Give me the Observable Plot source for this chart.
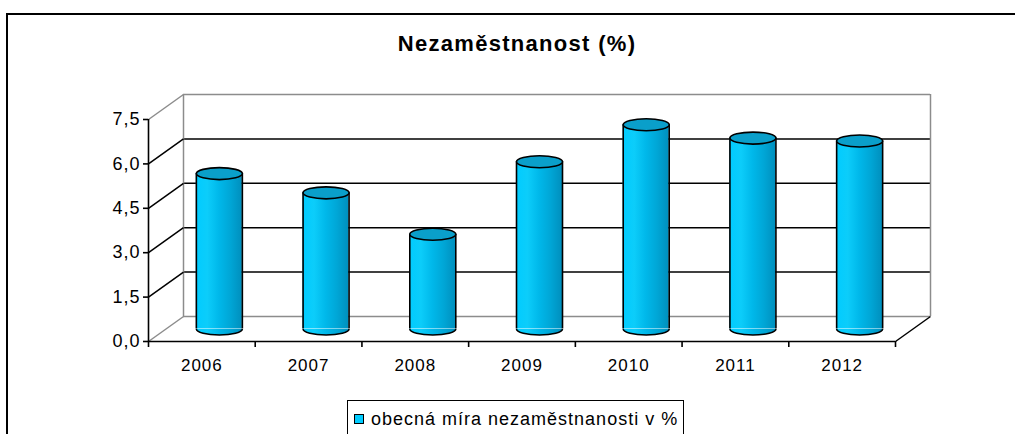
<!DOCTYPE html>
<html>
<head>
<meta charset="utf-8">
<script src="https://cdn.jsdelivr.net/npm/d3@7"></script>
<script src="https://cdn.jsdelivr.net/npm/@observablehq/plot@0.6"></script>
<style>
  html, body { margin: 0; padding: 0; background: #fff; overflow: hidden; }
  body { width: 1015px; height: 434px; position: relative; font-family: "Liberation Sans", Arial, sans-serif; }
  #frame { position: absolute; left: 6px; top: 13px; width: 1100px; height: 500px; border: 2px solid #000; box-sizing: border-box; }
  #title { position: absolute; left: 0; width: 1034px; top: 33px; text-align: center; font-weight: bold; font-size: 22px; line-height: 22px; letter-spacing: 1.3px; color: #000; }
  #chart { position: absolute; left: 0; top: 0; }
  #legend { position: absolute; left: 347px; top: 400px; width: 337px; height: 60px; border: 1.5px solid #000; box-sizing: border-box; background: #fff; }
  #legend .sw { position: absolute; left: 6px; top: 13px; width: 10px; height: 10px; background: #00ccff; border: 1px solid #000; box-sizing: border-box; }
  #legend .lab { position: absolute; left: 23px; top: 8px; font-size: 18px; line-height: 20px; letter-spacing: 1px; white-space: nowrap; }
</style>
</head>
<body>
<div id="frame"></div>
<div id="chart"></div>
<div id="title"></div>
<div id="legend"><div class="sw"></div><div class="lab"></div></div>
<script>
// ---- data ----
const chartTitle = "Nezaměstnanost (%)";
const seriesLabel = "obecná míra nezaměstnanosti v %";
const years = ["2006", "2007", "2008", "2009", "2010", "2011", "2012"];
const rates = [5.25, 4.6, 3.2, 5.65, 6.9, 6.45, 6.35];
const yTicks = [0, 1.5, 3, 4.5, 6, 7.5];

// ---- layout ----
const W = 1015, H = 434;
const ML = 148, MR = 120, MT = 119, MB = 93;
const DEPTH_X = 35, DEPTH_Y = 25;      // 3D depth offset in pixels
const CYL_W = 46, CYL_RY = 6;          // cylinder diameter / ellipse half-height
const GRAY = "#8c8c8c";

const data = years.map((year, i) => ({i, year, rate: rates[i]}));
const xDomain = [-0.5, years.length - 0.5];
const yDomain = [0, yTicks[yTicks.length - 1]];
const pxPerX = (W - ML - MR) / (xDomain[1] - xDomain[0]);
const pxPerY = (H - MT - MB) / (yDomain[1] - yDomain[0]);
const depthXu = DEPTH_X / pxPerX, depthYu = DEPTH_Y / pxPerY;
const hw = CYL_W / 2 / pxPerX;
const midDx = DEPTH_X / 2, midDy = -DEPTH_Y / 2;
const boundaries = d3.range(years.length + 1).map(k => k - 0.5);

// custom ellipse symbols
const K = 0.5523, RX = CYL_W / 2, RY = CYL_RY;
const ellipseSym = {draw(c) {
  c.moveTo(-RX, 0);
  c.bezierCurveTo(-RX, -RY * K, -RX * K, -RY, 0, -RY);
  c.bezierCurveTo(RX * K, -RY, RX, -RY * K, RX, 0);
  c.bezierCurveTo(RX, RY * K, RX * K, RY, 0, RY);
  c.bezierCurveTo(-RX * K, RY, -RX, RY * K, -RX, 0);
  c.closePath();
}};
const lowerHalfSym = {draw(c) {
  c.moveTo(-RX, 0);
  c.bezierCurveTo(-RX, RY * K, -RX * K, RY, 0, RY);
  c.bezierCurveTo(RX * K, RY, RX, RY * K, RX, 0);
  c.closePath();
}};
const lowerArcSym = {draw(c) {
  c.moveTo(-RX, 0);
  c.bezierCurveTo(-RX, RY * K, -RX * K, RY, 0, RY);
  c.bezierCurveTo(RX * K, RY, RX, RY * K, RX, 0);
}};

const inner = yTicks.filter(t => t > yDomain[0] && t < yDomain[1]);
const outer = [yDomain[0], yDomain[1]];

const svg = Plot.plot({
  width: W, height: H,
  marginLeft: ML, marginRight: MR, marginTop: MT, marginBottom: MB,
  x: {type: "linear", domain: xDomain, axis: null, label: null},
  y: {domain: yDomain, axis: null, label: null},
  style: {fontFamily: "'Liberation Sans', Arial, sans-serif", fontSize: "17px", letterSpacing: "1px", color: "#000", background: "transparent", overflow: "visible"},
  marks: [
    // back wall
    Plot.ruleY(inner, {x1: xDomain[0], x2: xDomain[1], dx: DEPTH_X, dy: -DEPTH_Y, stroke: "#000", strokeWidth: 1.5}),
    Plot.ruleY(outer, {x1: xDomain[0], x2: xDomain[1], dx: DEPTH_X, dy: -DEPTH_Y, stroke: GRAY, strokeWidth: 1.5}),
    Plot.ruleX(xDomain, {y1: yDomain[0], y2: yDomain[1], dx: DEPTH_X, dy: -DEPTH_Y, stroke: GRAY, strokeWidth: 1.5}),
    // side wall diagonals
    Plot.link(inner, {x1: xDomain[0], y1: d => d, x2: xDomain[0] + depthXu, y2: d => d + depthYu, stroke: "#000", strokeWidth: 1.5}),
    Plot.link(outer, {x1: xDomain[0], y1: d => d, x2: xDomain[0] + depthXu, y2: d => d + depthYu, stroke: GRAY, strokeWidth: 1.5}),
    // floor right diagonal & front edge
    Plot.link([0], {x1: xDomain[1], y1: 0, x2: xDomain[1] + depthXu, y2: depthYu, stroke: "#000", strokeWidth: 1.5}),
    Plot.ruleY([0], {x1: xDomain[0], x2: xDomain[1], stroke: "#000", strokeWidth: 1.6}),
    Plot.ruleX([xDomain[0]], {y1: yDomain[0], y2: yDomain[1], stroke: "#000", strokeWidth: 1.6}),
    // cylinders
    Plot.dot(data, {x: "i", y: 0, symbol: lowerHalfSym, fill: "url(#cyl)", stroke: "none", dx: midDx, dy: midDy}),
    Plot.rect(data, {x1: d => d.i - hw, x2: d => d.i + hw, y1: 0, y2: "rate", fill: "url(#cyl)", dx: midDx, dy: midDy}),
    Plot.dot(data, {x: "i", y: 0, symbol: lowerArcSym, fill: "none", stroke: "#000", strokeWidth: 1.6, dx: midDx, dy: midDy}),
    Plot.ruleX(data, {x: d => d.i - hw, y1: 0, y2: "rate", stroke: "#000", strokeWidth: 1.6, dx: midDx, dy: midDy}),
    Plot.ruleX(data, {x: d => d.i + hw, y1: 0, y2: "rate", stroke: "#000", strokeWidth: 1.6, dx: midDx, dy: midDy}),
    Plot.dot(data, {x: "i", y: "rate", symbol: ellipseSym, fill: "#0a9fca", stroke: "#000", strokeWidth: 1.6, dx: midDx, dy: midDy}),
    // axes
    Plot.axisY(yTicks, {label: null, tickSize: 5, tickPadding: 3, strokeWidth: 1.6, fontSize: 18, letterSpacing: 0.6, tickFormat: d => d.toFixed(1).replace(".", ",")}),
    Plot.axisX(boundaries, {label: null, tickSize: 6, strokeWidth: 1.6, tickFormat: () => ""}),
    Plot.text(data, {x: "i", y: 0, text: "year", dy: 24, fontSize: 17})
  ]
});

const ns = "http://www.w3.org/2000/svg";
const defs = document.createElementNS(ns, "defs");
defs.innerHTML = `<linearGradient id="cyl" x1="0" x2="1" y1="0" y2="0">
  <stop offset="0" stop-color="#00ccff"/>
  <stop offset="0.25" stop-color="#0ccdfa"/>
  <stop offset="0.5" stop-color="#00b8ea"/>
  <stop offset="0.75" stop-color="#00a6d6"/>
  <stop offset="1" stop-color="#008fbd"/>
</linearGradient>`;
svg.insertBefore(defs, svg.firstChild);
document.getElementById("chart").appendChild(svg);
document.getElementById("title").textContent = chartTitle;
document.querySelector("#legend .lab").textContent = seriesLabel;
</script>
</body>
</html>
